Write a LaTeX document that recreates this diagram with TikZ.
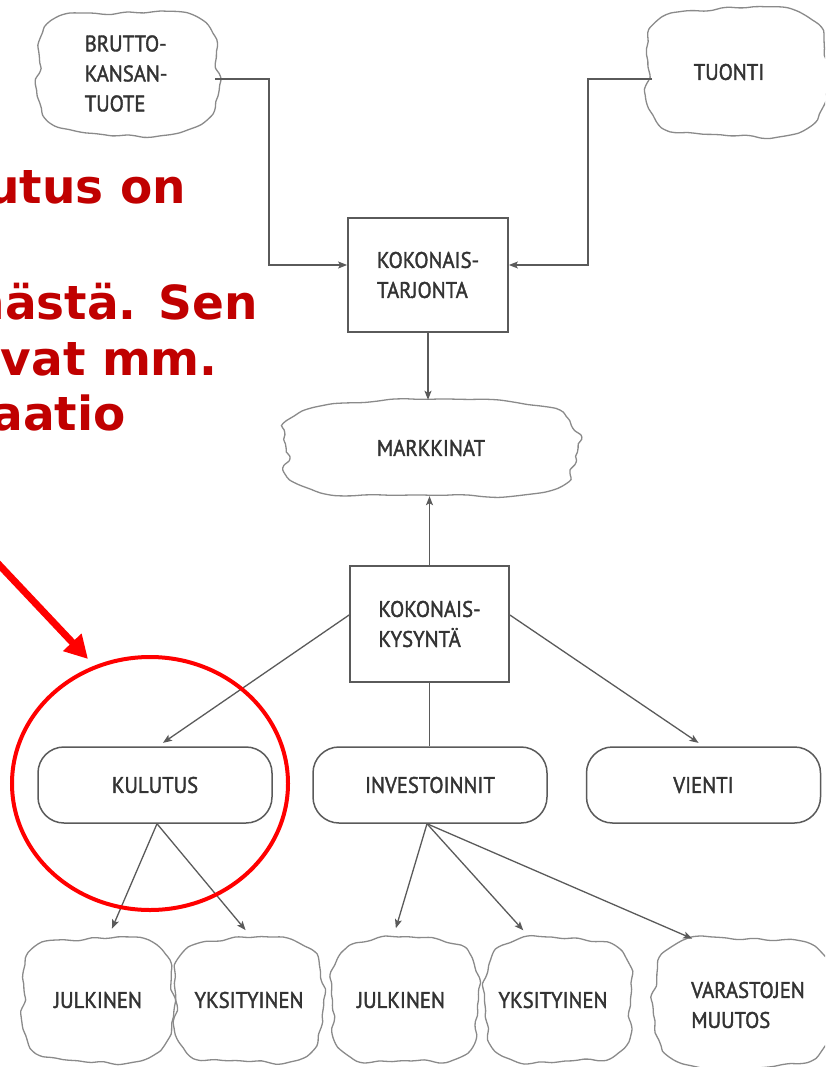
\documentclass[tikz,border=0pt]{standalone}
\usepackage{fontspec}
\setmainfont{PT Sans}
\newfontfamily\dfont[FakeStretch=0.92,FakeBold=1.6]{PT Sans}
\newfontfamily\redfont{DejaVu Sans}
\usetikzlibrary{arrows.meta}
\definecolor{ink}{HTML}{333333}
\definecolor{lgray}{HTML}{5A5A5A}
\definecolor{cgray}{HTML}{8A8A8A}
\definecolor{darkred}{HTML}{C00000}
\definecolor{brightred}{HTML}{FF0000}
\tikzset{
  lbl/.style={font=\dfont\fontsize{22.5}{30}\selectfont, text=ink, inner sep=0pt, align=left},
  cloudnode/.style={lbl, minimum width=#1},
  sqbox/.style={lbl, draw=lgray, line width=1.8pt},
  rbox/.style={lbl, draw=lgray, line width=1.5pt, rounded corners=26pt, minimum width=234pt, minimum height=76pt},
  cloudline/.style={draw=cgray, line width=1.3pt},
  conn/.style={draw=lgray, line width=1.3pt},
  arr/.style={conn, -{Stealth[length=9pt,width=7pt,inset=2pt]}},
  redtxt/.style={font=\redfont\bfseries\fontsize{47}{54}\selectfont, text=darkred, inner sep=0pt},
  redline/.style={draw=brightred, line width=4pt}
}
\newcommand\wobblecloud[5]{%
  \draw[cloudline] plot[smooth cycle, domain=0:355, samples=72, variable=\t]
  ({#1+#3*cos(\t)*sq(\t)*(1+0.022*sin(7*\t+#5)+0.014*sin(13*\t+2*#5)+0.009*sin(23*\t+3*#5))},
   {#2+#4*sin(\t)*sq(\t)*(1+0.028*sin(5*\t+#5+30)+0.014*sin(11*\t+#5)+0.009*sin(19*\t+2*#5))});
}
\begin{document}
\begin{tikzpicture}[x=1pt, y=-1pt,
  declare function={sq(\t)=((cos(\t)*cos(\t))^2+(sin(\t)*sin(\t))^2)^(-0.25);}]
\useasboundingbox (0,0) rectangle (825,1067);
\begin{scope}
\clip (0,0) rectangle (825,1067);
% clouds
\wobblecloud{128}{73.5}{90}{61.5}{10}
\wobblecloud{737}{72}{90}{64}{70}
\wobblecloud{431}{448}{146}{48}{130}
\wobblecloud{98}{1000}{75}{62}{40}
\wobblecloud{249}{1000}{74}{62}{100}
\wobblecloud{405}{1000}{73}{62}{160}
\wobblecloud{558}{1000}{73}{62}{220}
\wobblecloud{742}{1003}{88}{65}{280}
\node[cloudnode=180pt, minimum height=123pt] (bkt) at (126,73.5) {BRUTTO-\\KANSAN-\\TUOTE};
\node[cloudnode=180pt, minimum height=128pt] (tuo) at (729,72) {TUONTI};
\node[cloudnode=292pt, minimum height=96pt] (mark) at (431,448) {MARKKINAT};
\node[cloudnode=150pt, minimum height=124pt] (jul1) at (98,1000) {JULKINEN};
\node[cloudnode=148pt, minimum height=124pt] (yks1) at (249,1000) {YKSITYINEN};
\node[cloudnode=146pt, minimum height=124pt] (jul2) at (401,1000) {JULKINEN};
\node[cloudnode=146pt, minimum height=124pt] (yks2) at (553,1000) {YKSITYINEN};
\node[cloudnode=176pt, minimum height=130pt] (var) at (748,1005) {VARASTOJEN\\MUUTOS};
% boxes
\node[sqbox, minimum width=160pt, minimum height=114pt] (tarj) at (428,275) {KOKONAIS-\\TARJONTA};
\node[sqbox, minimum width=159pt, minimum height=116pt] (kys) at (429.5,624) {KOKONAIS-\\KYSYNTÄ};
\node[rbox] (kul) at (155,785) {KULUTUS};
\node[rbox] (inv) at (430,785) {INVESTOINNIT};
\node[rbox] (vie) at (703.5,785) {VIENTI};
% connectors
\coordinate (c1) at (269,79);
\coordinate (c2) at (588,79);
\draw[arr] (215,79) -- (c1) |- ([yshift=10pt]tarj.west);
\draw[arr] (652,79) -- (c2) |- ([yshift=10pt]tarj.east);
\draw[arr] (tarj.south) -- (tarj.south |- mark.north);
\draw[arr] (kys.north) -- (kys.north |- mark.south);
\draw[conn] (kys.south) -- (kys.south |- inv.north);
\draw[arr, shorten >=6pt] ([yshift=9pt]kys.east) -- (vie.north);
\draw[arr, shorten >=6pt] ([yshift=9pt]kys.west) -- ([xshift=3pt]kul.north);
\draw[arr, shorten >=10pt] ([xshift=2pt]kul.south) -- ([xshift=10pt]jul1.north);
\draw[arr, shorten >=10pt] ([xshift=2pt]kul.south) -- ([xshift=3pt]yks1.north);
\draw[arr, shorten >=10pt] ([xshift=-3pt]inv.south) -- ([xshift=-8pt]jul2.north);
\draw[arr, shorten >=10pt] ([xshift=-3pt]inv.south) -- ([xshift=-23pt]yks2.north);
\draw[arr, shorten >=3pt] ([xshift=-3pt]inv.south) -- ([xshift=-53pt]var.north);
% red annotation
\node[redtxt, anchor=base east] (r1) at (186,204) {utus on};
\node[redtxt, anchor=base east] (r2) at (258,319) {nästä. Sen};
\node[redtxt, anchor=base east] (r3) at (218,375) {vat mm.};
\node[redtxt, anchor=base east] (r4) at (126,430) {aatio};
\draw[redline] (150,783.5) ellipse [x radius=138, y radius=126.5];
\coordinate (rs) at (-12,553);
\coordinate (rt) at (88,659);
\draw[draw=brightred, line width=7pt, -{Triangle[length=23pt,width=24pt]}] (rs) -- (rt);
\end{scope}
\end{tikzpicture}
\end{document}
